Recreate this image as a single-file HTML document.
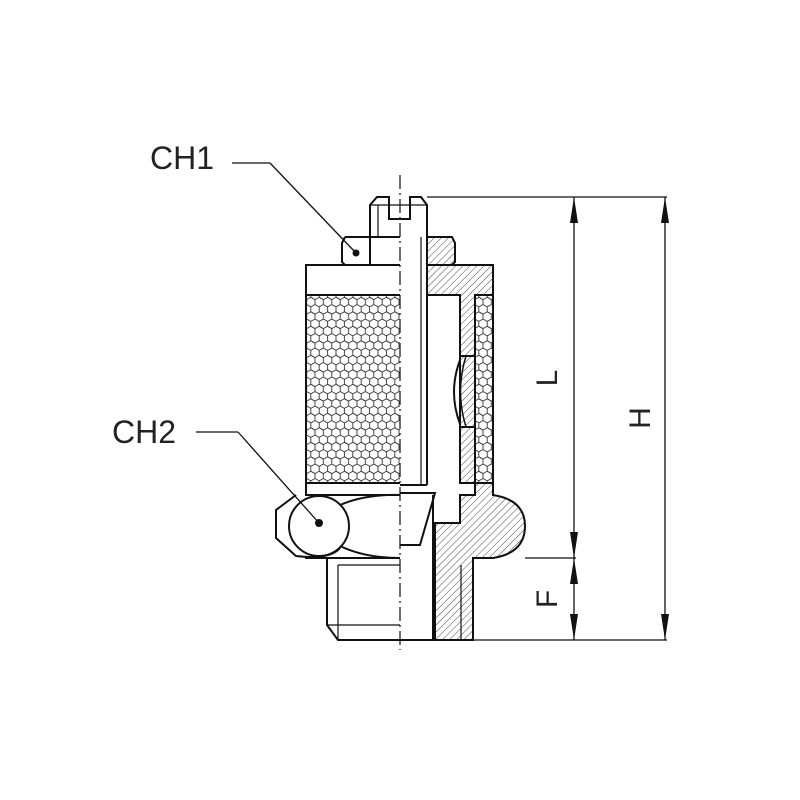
<!DOCTYPE html>
<html><head><style>html,body{margin:0;padding:0;background:#fff}svg{display:block}</style></head><body>
<svg width="800" height="800" viewBox="0 0 800 800" xmlns="http://www.w3.org/2000/svg">
<defs>
<pattern id="hatch" width="5" height="5" patternUnits="userSpaceOnUse" patternTransform="rotate(45)">
<line x1="0" y1="0" x2="0" y2="5" stroke="#333" stroke-width="0.9"/>
</pattern>
<pattern id="mesh" width="8.4" height="14.5" patternUnits="userSpaceOnUse">
<path d="M0,2.4 L4.2,0 L8.4,2.4 L8.4,7.25 L4.2,9.65 L0,7.25 Z M4.2,9.65 L4.2,14.5 M0,7.25 L0,2.4" fill="none" stroke="#333" stroke-width="0.9"/>
<path d="M-4.2,9.65 L0,7.25 L4.2,9.65 M8.4,7.25 L12.6,9.65" fill="none" stroke="#333" stroke-width="0.9"/>
</pattern>
</defs>
<g fill="none" stroke="#111" stroke-width="2">
<line x1="400" y1="175" x2="400" y2="650" stroke-width="1.2" stroke-dasharray="14,4,2,4"/>
<rect x="306" y="295" width="94" height="188" fill="url(#mesh)" stroke="none"/>
<rect x="475" y="295" width="18" height="188" fill="url(#mesh)" stroke="none"/>
<path d="M400,265 H306 V495 H400"/>
<line x1="306" y1="295" x2="400" y2="295"/>
<line x1="306" y1="483" x2="400" y2="483"/>
<path d="M427,265 H493 V295 H475 V483 H460 V295 H427 Z" fill="url(#hatch)"/>
<rect x="475" y="295" width="18" height="188"/>
<path d="M345,237 H400 M345,237 L342,243 V262 L345,265 H400" />
<line x1="370" y1="237" x2="370" y2="265"/>
<circle cx="356" cy="253" r="2.5" fill="#111"/>
<path d="M427,237 H452 L455,243 V262 L452,265 H427 Z" fill="url(#hatch)"/>
<path d="M370,237 V205 L377,197 H389 V219 H410 V197 H421 L427,205 V485"/>
<line x1="378" y1="205" x2="378" y2="237" stroke-width="1.2"/>
<line x1="370" y1="205" x2="427" y2="205" stroke-width="1.2"/>
<line x1="421" y1="237" x2="421" y2="485" stroke-width="1.2"/>
<line x1="400" y1="485" x2="427" y2="485"/>
<path d="M460,360 Q448,392 460,424 Z" fill="#fff"/>
<path d="M460,356 L475,356 M460,427 L475,427"/>
<path d="M466,356 Q455,392 466,427" stroke-width="1.5"/>
<path d="M400,495 H305 M400,558 H305"/>
<path d="M296,495 L276,510 V538 L296,556 Q330,560 340,548" />
<circle cx="319" cy="526" r="30"/>
<path d="M340,505 Q365,494 400,495 M340,546 Q365,558 400,558"/>
<circle cx="319" cy="523" r="3" fill="#111"/>
<path d="M400,493 H435 L420,545 H400" />
<path d="M460,495 H475 V483 H493 V495 Q525,500 525,526 Q525,553 493,558 H473 V640 H435 V523 H460 Z" fill="url(#hatch)"/>
<line x1="460" y1="495" x2="460" y2="523"/>
<line x1="433" y1="495" x2="433" y2="640"/>
<line x1="461" y1="565" x2="461" y2="640" stroke-width="1.2"/>
<path d="M400,558 H327 V625 L338,640 H473"/>
<line x1="338" y1="565" x2="338" y2="640" stroke-width="1.2"/>
<line x1="338" y1="565" x2="400" y2="565" stroke-width="1.2"/>
<line x1="327" y1="625" x2="400" y2="625" stroke-width="1.2"/>
<g stroke-width="1.3">
<line x1="427" y1="197" x2="667" y2="197"/>
<line x1="473" y1="640" x2="667" y2="640"/>
<line x1="525" y1="558" x2="576" y2="558"/>
<line x1="574" y1="197" x2="574" y2="640"/>
<line x1="665" y1="197" x2="665" y2="640"/>
<line x1="232" y1="163" x2="270" y2="163"/>
<line x1="270" y1="163" x2="356" y2="253"/>
<line x1="196" y1="432" x2="238" y2="432"/>
<line x1="238" y1="432" x2="319" y2="523"/>
</g>
</g>
<g fill="#111">
<path d="M574,197 L570,223 L578,223 Z"/>
<path d="M574,558 L570,532 L578,532 Z"/>
<path d="M574,558 L570,584 L578,584 Z"/>
<path d="M574,640 L570,614 L578,614 Z"/>
<path d="M665,197 L661,223 L669,223 Z"/>
<path d="M665,640 L661,614 L669,614 Z"/>
</g>
<g font-family="Liberation Sans, sans-serif" fill="#222">
<text x="150" y="169" font-size="32">CH1</text>
<text x="112" y="443" font-size="32">CH2</text>
<text transform="translate(557,378) rotate(-90)" font-size="30" text-anchor="middle">L</text>
<text transform="translate(650,418) rotate(-90)" font-size="30" text-anchor="middle">H</text>
<text transform="translate(557,599) rotate(-90)" font-size="30" text-anchor="middle">F</text>
</g>
</svg>
</body></html>
